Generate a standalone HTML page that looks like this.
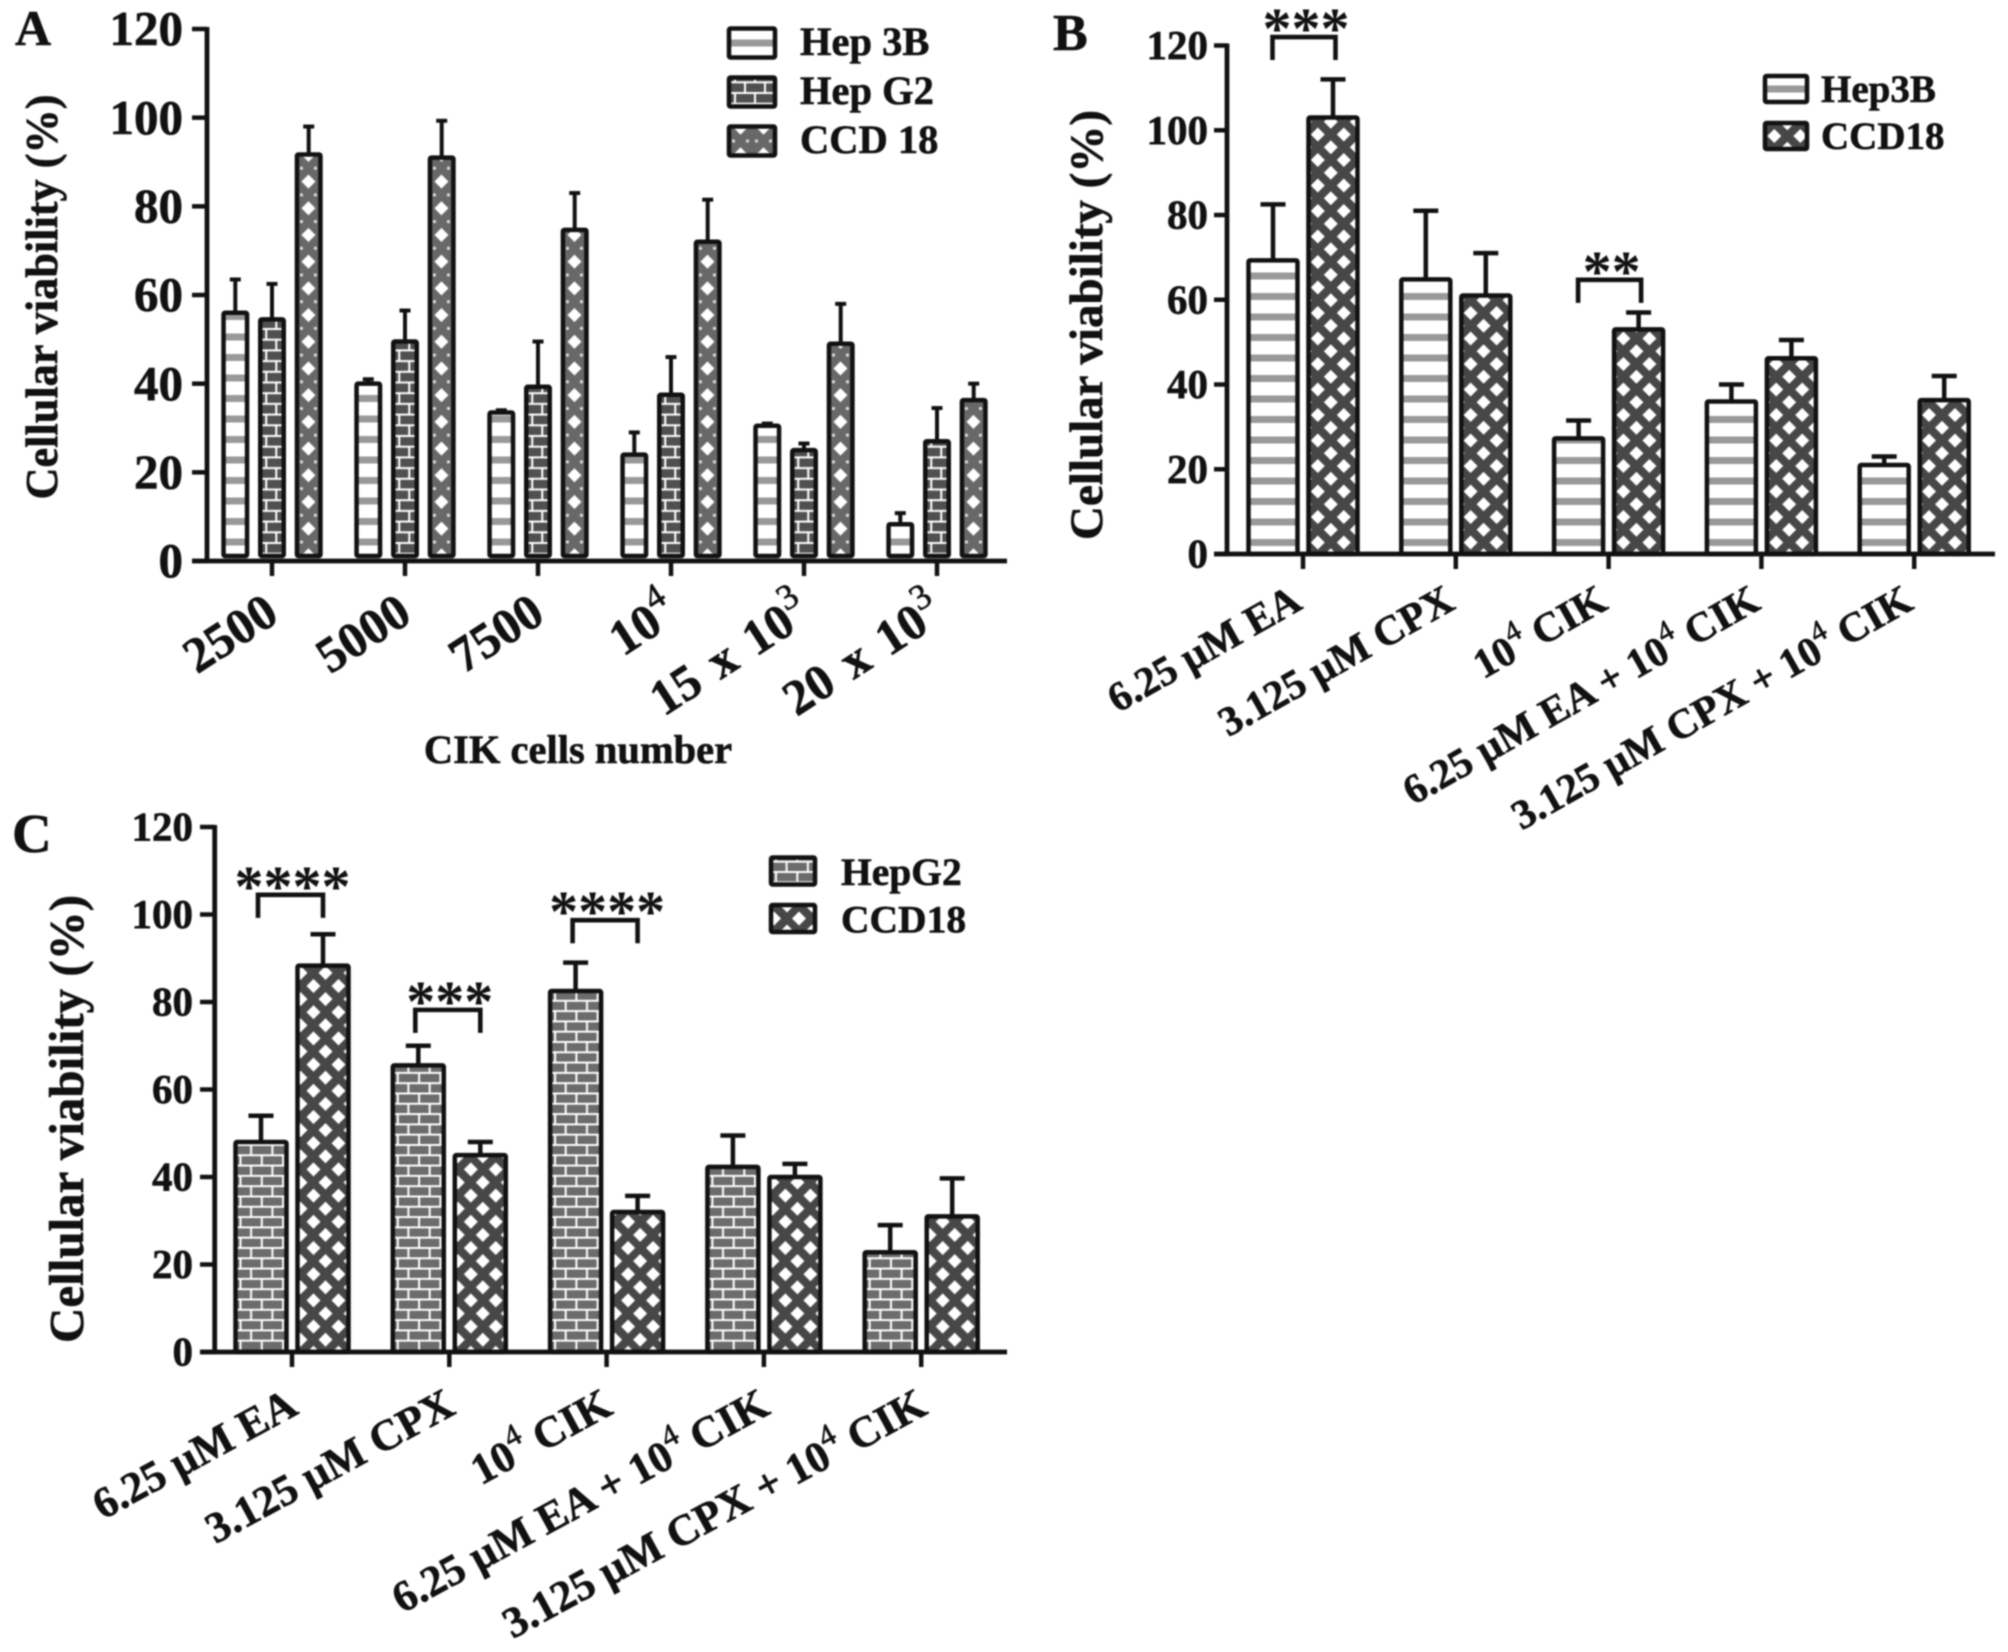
<!DOCTYPE html>
<html lang="en">
<head>
<meta charset="utf-8">
<title>Cellular viability charts</title>
<style>
html,body{margin:0;padding:0;background:#fff;width:2008px;height:1652px;overflow:hidden}
#figure{display:block;filter:blur(0.7px)}
text{font-family:"Liberation Serif","DejaVu Serif",serif;font-weight:bold;fill:#111;stroke:#111;stroke-width:0.6px}
</style>
</head>
<body>
<svg id="figure" xmlns="http://www.w3.org/2000/svg" width="2008" height="1652" viewBox="0 0 2008 1652">
<defs>
<pattern id="stripes" patternUnits="userSpaceOnUse" width="20.5" height="20.5">
  <rect width="20.5" height="20.5" fill="#fff"/>
  <rect y="0" width="20.5" height="3.5" fill="#999"/>
  <rect y="17" width="20.5" height="3.5" fill="#999"/>
</pattern>
<pattern id="brickA" patternUnits="userSpaceOnUse" width="20" height="21.4">
  <rect width="20" height="21.4" fill="#505050"/>
  <path d="M0 1H20M0 11.7H20M6 1V11.7M16 11.7V21.4" stroke="#fff" stroke-width="2" fill="none"/>
</pattern>
<pattern id="brickC" patternUnits="userSpaceOnUse" width="21.3" height="20.6">
  <rect width="21.3" height="20.6" fill="#6c6c6c"/>
  <path d="M0 1H21.3M0 11.3H21.3M5 1V11.3M15.6 11.3V20.6" stroke="#fff" stroke-width="2" fill="none"/>
</pattern>
<pattern id="ccdA" patternUnits="userSpaceOnUse" width="23" height="26.7">
  <rect width="23" height="26.7" fill="#686868"/>
  <path d="M11.5 6.35L18.5 13.35L11.5 20.35L4.5 13.35Z" fill="#fff"/>
  <circle cx="4.5" cy="0" r="1.6" fill="#ddd"/><circle cx="18.5" cy="0" r="1.6" fill="#ddd"/>
  <circle cx="4.5" cy="26.7" r="1.6" fill="#ddd"/><circle cx="18.5" cy="26.7" r="1.6" fill="#ddd"/>
</pattern>
<pattern id="ccdB" patternUnits="userSpaceOnUse" width="26" height="25.5">
  <rect width="26" height="25.5" fill="#474747"/>
  <path d="M9.3 -7L16.3 0L9.3 7L2.3 0Z" fill="#fff"/>
  <path d="M9.3 18.5L16.3 25.5L9.3 32.5L2.3 25.5Z" fill="#fff"/>
  <path d="M22.3 5.75L29.3 12.75L22.3 19.75L15.3 12.75Z" fill="#fff"/>
  <path d="M-3.7 5.75L3.3 12.75L-3.7 19.75L-10.7 12.75Z" fill="#fff"/>
</pattern>
<pattern id="ccdC" patternUnits="userSpaceOnUse" width="25" height="26.2">
  <rect width="25" height="26.2" fill="#474747"/>
  <path d="M3 -7L10 0L3 7L-4 0Z" fill="#fff"/>
  <path d="M3 19.2L10 26.2L3 33.2L-4 26.2Z" fill="#fff"/>
  <path d="M28 -7L35 0L28 7L21 0Z" fill="#fff"/>
  <path d="M28 19.2L35 26.2L28 33.2L21 26.2Z" fill="#fff"/>
  <path d="M16 6.1L23 13.1L16 20.1L9 13.1Z" fill="#fff"/>
</pattern>
</defs>
</svg>
<script>
// Shared y axis ticks
const yTickValues = [0, 20, 40, 60, 80, 100, 120];

// Panel A
const panelACategories = ["2500", "5000", "7500", "10^4", "15 x 10^3", "20 x 10^3"];
const panelAHep3B = [56, 40, 33.5, 24, 30.5, 8.3];
const panelAHep3BError = [7.5, 1, 0.5, 5, 0.5, 2.5];
const panelAHepG2 = [54.5, 49.5, 39.3, 37.5, 25, 27];
const panelAHepG2Error = [8, 7, 10.2, 8.5, 1.5, 7.5];
const panelACCD18 = [91.7, 91, 74.7, 72, 49, 36.3];
const panelACCD18Error = [6.3, 8.3, 8.3, 9.5, 9, 3.7];
const panelALegend = ["Hep 3B", "Hep G2", "CCD 18"];

// Panel B
const panelBCategories = ["6.25 µM EA", "3.125 µM CPX", "10^4 CIK", "6.25 µM EA + 10^4 CIK", "3.125 µM CPX + 10^4 CIK"];
const panelBHep3B = [69.3, 64.8, 27.3, 36, 21];
const panelBHep3BError = [13.2, 16.2, 4.2, 4, 2];
const panelBCCD18 = [103, 61, 53, 46.2, 36.3];
const panelBCCD18Error = [9, 10, 4, 4.3, 5.7];
const panelBLegend = ["Hep3B", "CCD18"];
const panelBSigGroups = [0, 2];
const panelBSigLevels = [122, 64.7];
const panelBSigStars = ["***", "**"];

// Panel C
const panelCCategories = ["6.25 µM EA", "3.125 µM CPX", "10^4 CIK", "6.25 µM EA + 10^4 CIK", "3.125 µM CPX + 10^4 CIK"];
const panelCHepG2 = [48, 65.5, 82.5, 42.3, 22.8];
const panelCHepG2Error = [6, 4.5, 6.5, 7.2, 6.2];
const panelCCCD18 = [88.3, 45, 32, 40, 31];
const panelCCCD18Error = [7.2, 3, 3.7, 3, 8.7];
const panelCLegend = ["HepG2", "CCD18"];
const panelCSigGroups = [0, 1, 2];
const panelCSigLevels = [104.5, 78.2, 98.7];
const panelCSigStars = ["****", "***", "****"];

const svg = document.getElementById('figure');
const NS = 'http://www.w3.org/2000/svg';

function make(parent, tag, attrs) {
  const el = document.createElementNS(NS, tag);
  for (const k in attrs) el.setAttribute(k, attrs[k]);
  parent.appendChild(el);
  return el;
}

function fillLabel(textEl, label, supSize) {
  const parts = label.split('^');
  const first = document.createElementNS(NS, 'tspan');
  first.textContent = parts[0];
  textEl.appendChild(first);
  for (let i = 1; i < parts.length; i++) {
    const sup = document.createElementNS(NS, 'tspan');
    sup.setAttribute('dy', -supSize * 0.6);
    sup.setAttribute('font-size', supSize);
    sup.setAttribute('font-weight', 'normal');
    sup.textContent = parts[i].charAt(0);
    textEl.appendChild(sup);
    const rest = document.createElementNS(NS, 'tspan');
    rest.setAttribute('dy', supSize * 0.6);
    rest.textContent = parts[i].slice(1);
    textEl.appendChild(rest);
  }
}

function drawPanel(p) {
  const root = make(svg, 'g', {});
  
  

  const yScale = v => p.y0 - (v / 120) * (p.y0 - p.yTop);
  const xScale = i => p.firstTick + i * p.tickStep;

  const panelLetter = make(root, 'text', {x: p.letterX, y: p.letterY, 'font-size': p.letterSize});
  panelLetter.textContent = p.id;
  
  

  // Bars
  p.series.forEach((s, si) => {
    const offset = (si - (p.series.length - 1) / 2) * p.pitch;
    s.values.forEach((v, i) => {
      const cx = xScale(i) + offset;
      const left = cx - p.barW / 2;
      const top = yScale(v);
      const capY = yScale(v + s.errors[i]);

      const errStem = make(root, 'line', {x1: cx, x2: cx, y1: top, y2: capY, stroke: '#111', 'stroke-width': p.errStroke});
      
      
      const errCap = make(root, 'line', {x1: cx - p.capW / 2, x2: cx + p.capW / 2, y1: capY, y2: capY, stroke: '#111', 'stroke-width': p.errStroke});
      
      

      const originY = p.y0 + p.patternShift;
      const g = make(root, 'g', {transform: 'translate(' + left + ',' + originY + ')'});
      const bar = make(g, 'rect', {
        x: 0, y: top - originY, width: p.barW,
        height: Math.max(0, p.y0 - p.barGap - top),
        fill: 'url(#' + s.pattern + ')', stroke: '#111', 'stroke-width': p.barStroke,
        'stroke-linejoin': 'round', rx: 1.5
      });
      
      
    });
  });

  // Axes
  const yAxis = make(root, 'line', {x1: p.axisX, x2: p.axisX, y1: p.yTop - 2, y2: p.y0 + 2, stroke: '#111', 'stroke-width': 4.8});
  
  
  const xAxis = make(root, 'line', {x1: p.xStart, x2: p.xEnd, y1: p.y0, y2: p.y0, stroke: '#111', 'stroke-width': 4.8});
  
  

  yTickValues.forEach(t => {
    const y = yScale(t);
    const tick = make(root, 'line', {x1: p.xStart, x2: p.axisX, y1: y, y2: y, stroke: '#111', 'stroke-width': 4.5});
    
    
    const lab = make(root, 'text', {x: p.yLabelRight, y: y + p.yLabelSize * 0.33, 'font-size': p.yLabelSize, 'text-anchor': 'end'});
    lab.textContent = t;
    
    
  });

  p.categories.forEach((c, i) => {
    const x = xScale(i);
    const tick = make(root, 'line', {x1: x, x2: x, y1: p.y0, y2: p.y0 + 15, stroke: '#111', 'stroke-width': 4.5});
    
    
    const ex = x + p.labelDx, ey = p.y0 + p.labelDy;
    const lab = make(root, 'text', {
      x: ex, y: ey, 'font-size': p.xLabelSize, 'text-anchor': 'end',
      'word-spacing': p.wordSpacing,
      transform: 'rotate(' + p.labelAngle + ' ' + ex + ' ' + ey + ')'
    });
    fillLabel(lab, c, p.xLabelSize * p.supRatio);
    
    
  });

  // Y axis title
  const yt = make(root, 'text', {
    x: 0, y: 0, 'font-size': p.yTitleSize, 'text-anchor': 'middle',
    textLength: p.yTitleLen, lengthAdjust: 'spacingAndGlyphs',
    transform: 'translate(' + p.yTitleX + ',' + p.yTitleY + ') rotate(-90)'
  });
  yt.textContent = 'Cellular viability (%)';
  
  

  // Significance brackets
  (p.sigGroups || []).forEach((grp, i) => {
    const x1 = xScale(grp) - p.pitch / 2 - 3 + p.sigShift;
    const x2 = xScale(grp) + p.pitch / 2 + p.sigShift;
    const yT = yScale(p.sigLevels[i]);
    const yB = yT + 23;
    const br = make(root, 'path', {d: 'M' + x1 + ' ' + yB + 'V' + yT + 'H' + x2 + 'V' + yB, fill: 'none', stroke: '#111', 'stroke-width': 4.6});
    
    
    const st = make(root, 'text', {x: (x1 + x2) / 2 + 2, y: yT + 11, 'font-size': 58, 'text-anchor': 'middle'});
    st.style.strokeWidth = '0';
    st.textContent = p.sigStars[i];
    
    
  });

  // Legend
  p.legend.forEach((name, i) => {
    const cy = p.legendTop + i * p.legendStep;
    const g = make(root, 'g', {transform: 'translate(' + p.legendX + ',' + cy + ')'});
    
    
    const sw = make(g, 'rect', {
      x: 0, y: -p.swatchH / 2, width: p.swatchW, height: p.swatchH, rx: 1.5,
      fill: 'url(#' + p.series[i].pattern + ')', stroke: '#111', 'stroke-width': 4.5
    });
    
    
    const t = make(g, 'text', {x: p.legendTextDx, y: p.legendBaseDy, 'font-size': p.legendSize});
    t.textContent = name;
    
    
  });
}

drawPanel({
  id: 'A', letterX: 15, letterY: 45, letterSize: 50,
  axisX: 207, y0: 561, yTop: 29, xStart: 192, xEnd: 1007,
  firstTick: 272, tickStep: 133, pitch: 36.7, barW: 23.5, barGap: 5, barStroke: 4.5, patternShift: -19,
  errStroke: 4, capW: 11, sigShift: 0,
  yLabelRight: 183, yLabelSize: 49,
  xLabelSize: 50, labelAngle: -33, labelDx: 9, labelDy: 59, supRatio: 0.72, wordSpacing: 5,
  yTitleX: 57, yTitleY: 297, yTitleSize: 45, yTitleLen: 405,
  categories: panelACategories,
  series: [
    {key: 'hep3b', values: panelAHep3B, errors: panelAHep3BError, pattern: 'stripes'},
    {key: 'hepg2', values: panelAHepG2, errors: panelAHepG2Error, pattern: 'brickA'},
    {key: 'ccd18', values: panelACCD18, errors: panelACCD18Error, pattern: 'ccdA'}
  ],
  legend: panelALegend, legendX: 729, legendTop: 43, legendStep: 49, swatchW: 46, swatchH: 29,
  legendTextDx: 71, legendBaseDy: 12, legendSize: 40.5
});

drawPanel({
  id: 'B', letterX: 1053, letterY: 50, letterSize: 52,
  axisX: 1227, y0: 554, yTop: 45.5, xStart: 1214, xEnd: 1995,
  firstTick: 1303, tickStep: 152.8, pitch: 60, barW: 49, barGap: 0, barStroke: 4.5, patternShift: -11.5,
  errStroke: 4.5, capW: 25, sigShift: 2.5,
  yLabelRight: 1208, yLabelSize: 41,
  xLabelSize: 41.5, labelAngle: -29.5, labelDx: 1, labelDy: 54, supRatio: 0.72, wordSpacing: 0,
  yTitleX: 1102, yTitleY: 325, yTitleSize: 47, yTitleLen: 430,
  categories: panelBCategories,
  series: [
    {key: 'hep3b', values: panelBHep3B, errors: panelBHep3BError, pattern: 'stripes'},
    {key: 'ccd18', values: panelBCCD18, errors: panelBCCD18Error, pattern: 'ccdB'}
  ],
  sigGroups: panelBSigGroups, sigLevels: panelBSigLevels, sigStars: panelBSigStars,
  legend: panelBLegend, legendX: 1765, legendTop: 89, legendStep: 47, swatchW: 42, swatchH: 26,
  legendTextDx: 56, legendBaseDy: 13, legendSize: 39
});

drawPanel({
  id: 'C', letterX: 12, letterY: 852, letterSize: 55,
  axisX: 214.7, y0: 1352, yTop: 827, xStart: 200, xEnd: 1007,
  firstTick: 292, tickStep: 157.3, pitch: 62, barW: 51, barGap: 0, barStroke: 4.5, patternShift: -12.3,
  errStroke: 4.5, capW: 25, sigShift: 0,
  yLabelRight: 193, yLabelSize: 41,
  xLabelSize: 43.5, labelAngle: -28.5, labelDx: 8, labelDy: 61, supRatio: 0.72, wordSpacing: 0,
  yTitleX: 83, yTitleY: 1119, yTitleSize: 49, yTitleLen: 448,
  categories: panelCCategories,
  series: [
    {key: 'hepg2', values: panelCHepG2, errors: panelCHepG2Error, pattern: 'brickC'},
    {key: 'ccd18', values: panelCCCD18, errors: panelCCCD18Error, pattern: 'ccdC'}
  ],
  sigGroups: panelCSigGroups, sigLevels: panelCSigLevels, sigStars: panelCSigStars,
  legend: panelCLegend, legendX: 771, legendTop: 871, legendStep: 47.5, swatchW: 44, swatchH: 27,
  legendTextDx: 70, legendBaseDy: 14, legendSize: 39.5
});

const xAxisTitle = make(svg, 'text', {x: 578, y: 763, 'font-size': 40.5, 'text-anchor': 'middle'});
xAxisTitle.textContent = 'CIK cells number';


</script>
</body>
</html>
